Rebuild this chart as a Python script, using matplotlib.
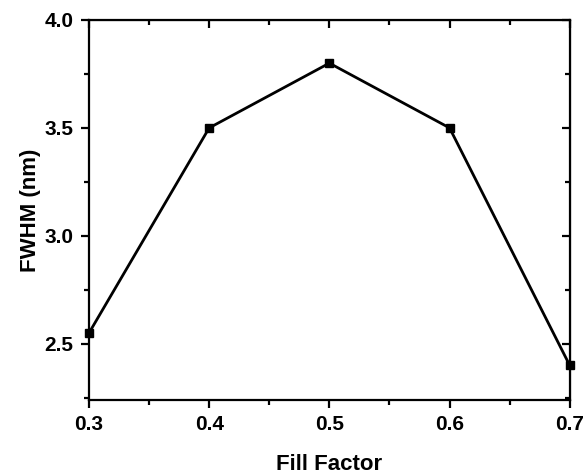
import matplotlib.pyplot as plt
from matplotlib.ticker import MultipleLocator

# fill factor vs. FWHM
fill_factor = [0.3, 0.4, 0.5, 0.6, 0.7]
fwhm = [2.55, 3.5, 3.8, 3.5, 2.4]

plt.rcParams['font.family'] = ['Liberation Sans', 'DejaVu Sans']
plt.rcParams['font.weight'] = 'bold'

fig = plt.figure(figsize=(5.87, 4.75), dpi=100)
ax = fig.add_axes([0.1516, 0.158, 0.819, 0.80])

ax.plot(fill_factor, fwhm, color='black', linewidth=2.0, marker='s',
        markersize=6, clip_on=False, zorder=3)

ax.set_xlim(0.3, 0.7)
ax.set_ylim(2.24, 4.0)
ax.xaxis.set_major_locator(MultipleLocator(0.1))
ax.xaxis.set_minor_locator(MultipleLocator(0.05))
ax.yaxis.set_major_locator(MultipleLocator(0.5))
ax.yaxis.set_minor_locator(MultipleLocator(0.25))

for s in ax.spines.values():
    s.set_linewidth(1.6)

# outward ticks on bottom/left, inward mirrors on top/right
ax.tick_params(which='both', direction='out', width=1.6, labelsize=15, pad=5)
ax.tick_params(which='major', length=6)
ax.tick_params(which='minor', length=3.5)
for lbl in ax.get_xticklabels() + ax.get_yticklabels():
    lbl.set_fontweight('bold')

top = ax.secondary_xaxis('top')
top.xaxis.set_major_locator(MultipleLocator(0.1))
top.xaxis.set_minor_locator(MultipleLocator(0.05))
top.tick_params(which='both', direction='in', width=1.6, labeltop=False)
top.tick_params(which='major', length=6)
top.tick_params(which='minor', length=3.5)

right = ax.secondary_yaxis('right')
right.yaxis.set_major_locator(MultipleLocator(0.5))
right.yaxis.set_minor_locator(MultipleLocator(0.25))
right.tick_params(which='both', direction='in', width=1.6, labelright=False)
right.tick_params(which='major', length=6)
right.tick_params(which='minor', length=3.5)

ax.set_xlabel('Fill Factor', fontsize=16, fontweight='bold', labelpad=14)
ax.set_ylabel('FWHM (nm)', fontsize=16, fontweight='bold', labelpad=3)

fig.savefig('out.png', dpi=100)
